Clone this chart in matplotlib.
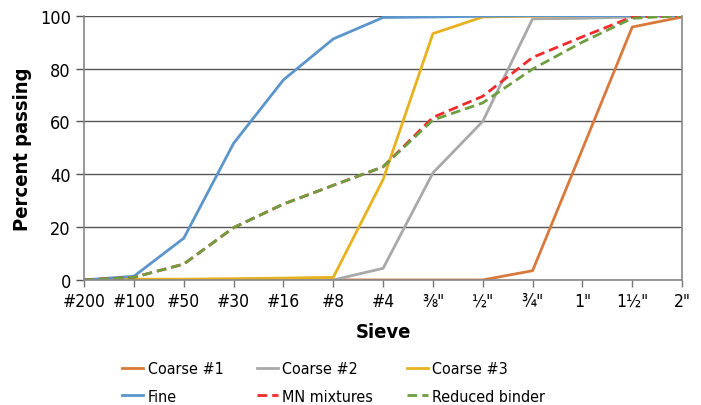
import matplotlib
matplotlib.use("Agg")
import matplotlib.pyplot as plt
import numpy as np

sieves = ['#200', '#100', '#50', '#30', '#16', '#8', '#4',
          '\u215c"', '\u00bd"', '\u00be"', '1"', '1\u00bd"', '2"']

coarse1 = [0, 0, 0, 0, 0, 0, 0, 0, 0, 3.5, 49.5, 95.7, 99.5]
coarse2 = [0, 0, 0, 0, 0, 0, 4.4, 40.5, 60, 98.8, 99, 99.5, 100]
coarse3 = [0, 0.3, 0.3, 0.5, 0.7, 1, 38, 93.2, 99.5, 99.8, 100, 100, 100]
fine = [0, 1.4, 15.8, 51.7, 75.7, 91.2, 99.3, 99.5, 99.8, 100, 100, 100, 100]
mn_mix = [0, 1, 6, 19.8, 28.7, 35.8, 42.8, 61.5, 69.5, 84.2, 92, 99.5, 100]
reduced = [0, 1, 6, 19.8, 28.7, 35.8, 42.8, 60.5, 67, 79.8, 90, 99, 100]

plt.rcParams['font.family'] = ['DejaVu Sans']
plt.rcParams['font.stretch'] = 'condensed'

fig = plt.figure(figsize=(7.01, 4.06), dpi=100)
ax = fig.add_axes([0.12, 0.308, 0.853, 0.651])

x = np.arange(len(sieves))
lw = 2.0
dash = (0, (3.5, 1.8))
h1, = ax.plot(x, coarse1, color='#D9793C', lw=lw, label='Coarse #1')
h2, = ax.plot(x, coarse2, color='#A9A9A9', lw=lw, label='Coarse #2')
h3, = ax.plot(x, coarse3, color='#E8B21E', lw=lw, label='Coarse #3')
h4, = ax.plot(x, fine, color='#5B95CB', lw=lw, label='Fine')
h5, = ax.plot(x, mn_mix, color='#F22A2A', lw=lw, ls=dash, label='MN mixtures')
h6, = ax.plot(x, reduced, color='#6E9E40', lw=lw, ls=dash, label='Reduced binder')

ax.set_xlim(0, len(sieves) - 1)
ax.set_ylim(0, 100)
ax.set_xticks(x)
ax.set_xticklabels(sieves, fontsize=12.5)
ax.set_yticks(np.arange(0, 101, 20))
ax.tick_params(axis='y', labelsize=13, length=6, color='#555555', width=1)
ax.tick_params(axis='x', length=5, color='#777777', width=1)
ax.yaxis.grid(True, color='#555555', lw=1)
ax.set_axisbelow(True)
for s in ['left', 'bottom', 'right']:
    ax.spines[s].set_color('#888888')
    ax.spines[s].set_linewidth(1.2)
ax.spines['top'].set_visible(False)

ax.set_ylabel('Percent passing', fontsize=14.5, fontweight='bold', labelpad=6)
ax.set_xlabel('Sieve', fontsize=14.5, fontweight='bold', labelpad=9)

# row-major order like the original legend
handles = [h1, h4, h2, h5, h3, h6]
ax.legend(handles=handles, labels=[h.get_label() for h in handles],
          loc='upper left', bbox_to_anchor=(0.174, 0.108),
          bbox_transform=fig.transFigure, borderaxespad=0, borderpad=0,
          ncol=3, frameon=False, fontsize=11.5, handlelength=1.3,
          handletextpad=0.3, columnspacing=2.1, labelspacing=0.8)

fig.savefig('out.png', dpi=100)
